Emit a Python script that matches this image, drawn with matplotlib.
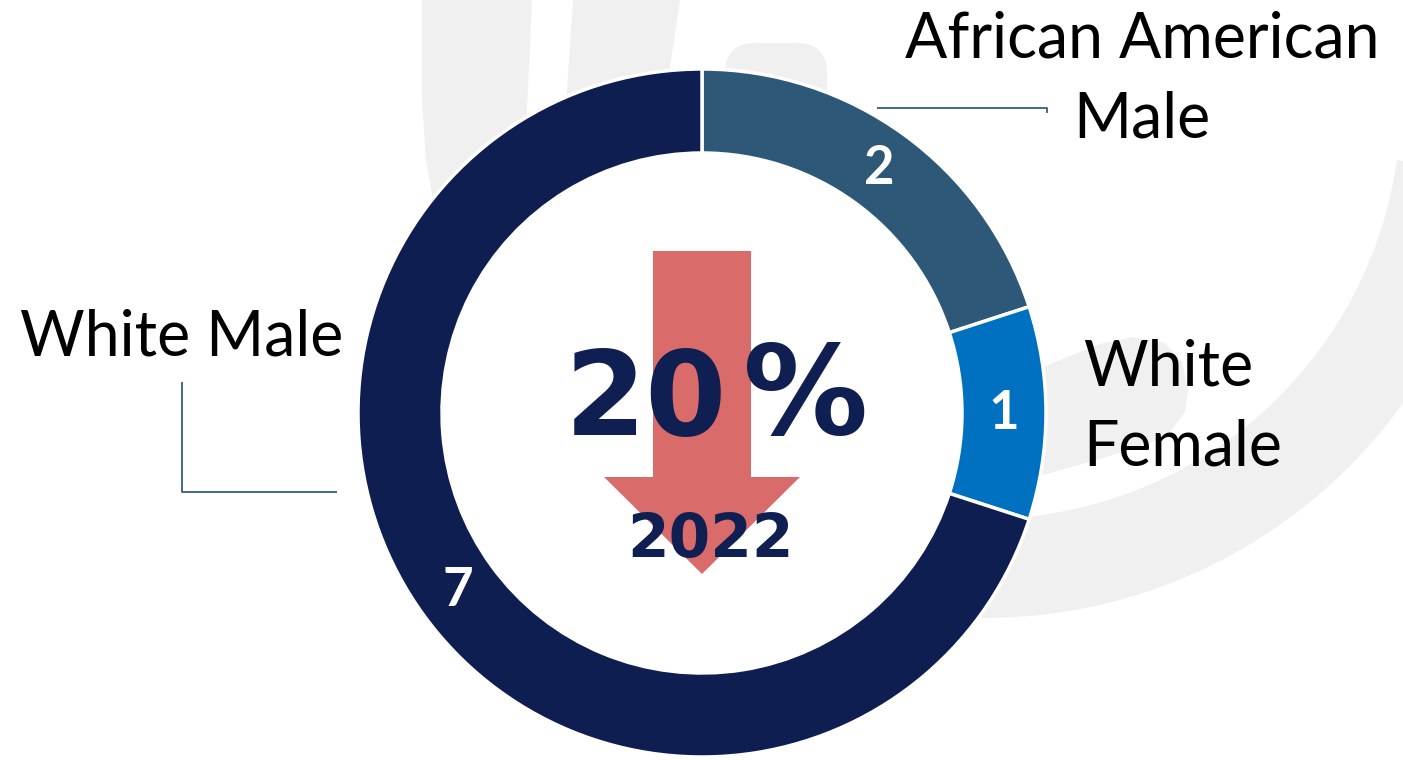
import numpy as np
import matplotlib.pyplot as plt
from matplotlib.patches import Circle, Wedge, FancyBboxPatch, FancyArrow, Polygon

# data
categories = ["African American\nMale", "White\nFemale", "White Male"]
counts = [2, 1, 7]
colors = ["#2E5878", "#0070C0", "#0F1E50"]
change = "20"
year = "2022"

W, H = 1403, 760
fig = plt.figure(figsize=(W / 100, H / 100), dpi=100)
ax = fig.add_axes([0, 0, 1, 1])

cx, cy, r_out, ring = 702, 413, 344, 84
total = sum(counts)
navy = "#101F51"
gray = "#F0F0F0"

# faint watermark in the background (pixel coords, y down)
ax.add_patch(Wedge((984, 102), 516, 8, 135, width=99, color=gray, lw=0, zorder=0))
ax.add_patch(Polygon([(980, 385), (1043, 367), (1100, 344), (1133, 337), (1165, 343), (1182, 362),
                      (1188, 390), (1185, 412), (1170, 432), (1150, 443), (1100, 459),
                      (1043, 475), (980, 480)], closed=True, color=gray, lw=0, zorder=0))
ax.add_patch(Polygon([(422, 0), (422, 100), (426, 160), (433, 200), (445, 260), (526, 260),
                      (526, 200), (527, 110), (532, 0)], closed=True, color=gray, lw=0, zorder=0))
ax.add_patch(Polygon([(573, 0), (567, 90), (566, 130), (668, 130), (670, 67), (680, 0)],
                     closed=True, color=gray, lw=0, zorder=0))
ax.add_patch(FancyBboxPatch((725, 43), 102, 150, boxstyle="round,pad=0,rounding_size=30",
                            color=gray, lw=0, zorder=0))

# white hole
ax.add_patch(Circle((cx, cy), r_out - ring, color="white", zorder=0.5))

wedges, texts, autotexts = ax.pie(
    counts, colors=colors, center=(cx, cy), radius=r_out,
    startangle=-90, counterclock=True,
    wedgeprops=dict(width=ring, edgecolor="white", linewidth=2.5),
    autopct=lambda p: f"{p * total / 100:.0f}",
    pctdistance=(r_out - ring / 2) / r_out,
    textprops=dict(color="white", fontsize=38, fontweight="bold", family="Lato"))

# arrow behind the headline number
ax.add_patch(FancyArrow(702, 251, 0, 323, width=98, head_width=196, head_length=97,
                        length_includes_head=True, color="#D96B6B", lw=0, zorder=2))
ax.text(565, 435, change, ha="left", va="baseline", fontsize=84, fontweight="bold",
        color=navy, family="DejaVu Sans", zorder=3)
ax.text(743, 434, "%", ha="left", va="baseline", fontsize=90, fontweight="bold",
        color=navy, family="DejaVu Sans", zorder=3)
ax.text(710, 557, year, ha="center", va="baseline", fontsize=43, fontweight="bold",
        color=navy, family="DejaVu Sans", zorder=3)

# category labels and leaders
lab = dict(fontsize=45, color="black", family="Lato", zorder=3)
ax.text(1142, 137, categories[0], ha="center", va="baseline", linespacing=1.45, **lab)
ax.text(1083, 465, categories[1], ha="left", va="baseline", linespacing=1.45, **lab)
ax.text(20, 355, categories[2], ha="left", va="baseline", **lab)
lc = "#44678A"
ax.plot([878, 1047, 1047], [108, 108, 112], color=lc, lw=1.4, zorder=3)
ax.plot([182, 182, 336], [383, 492, 492], color=lc, lw=1.4, zorder=3)

ax.set_xlim(0, W)
ax.set_ylim(H, 0)
ax.set_aspect("equal")
ax.axis("off")
fig.savefig("out.png", dpi=100, facecolor="white")
